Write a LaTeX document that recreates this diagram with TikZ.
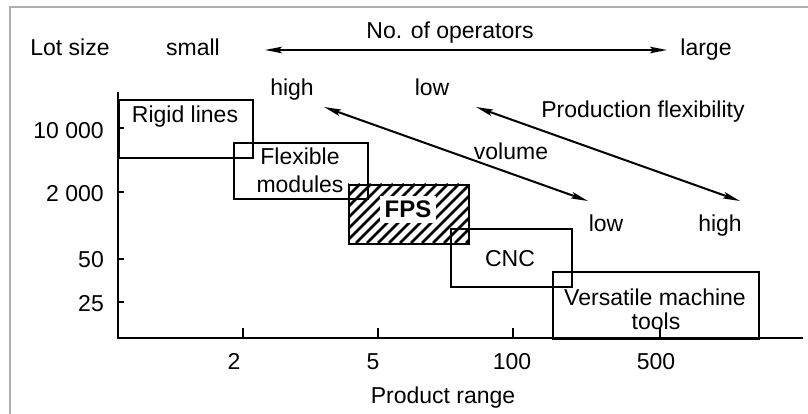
\documentclass[tikz,border=0pt]{standalone}
\usepackage{fontspec}
\setmainfont{Liberation Sans}
\usetikzlibrary{arrows.meta}
\begin{document}
\begin{tikzpicture}[x=1pt,y=-1pt,
  font=\fontsize{23}{27}\selectfont,
  ln/.style={line width=2.4pt},
  boxnode/.style={draw, line width=2.4pt, inner sep=0pt, anchor=north west},
  lbl/.style={inner sep=0pt, anchor=base},
  ylbl/.style={inner sep=0pt, anchor=base east},
  dbl/.style={line width=2pt, {Stealth[length=17pt,width=6.5pt,inset=3pt]}-{Stealth[length=17pt,width=6.5pt,inset=3pt]}},
  hatch/.style={line width=2.8pt}]
\useasboundingbox (0,0) rectangle (808,414);
\draw[line width=2pt, color={rgb,255:red,175;green,175;blue,175}] (10,414) -- (10,7) -- (808,7);

% axes
\coordinate (ytop) at (118,92);
\coordinate (origin) at (118,338);
\coordinate (xend) at (803,338);
\draw[ln] (ytop) -- (origin) -- (xend);

% y ticks and labels
\foreach \y [count=\i] in {128,192,259,302}{
  \coordinate (yt\i) at (118,\y);
  \draw[ln] (yt\i) -- ++(6,0);
}
\node[ylbl] (l10000) at (104,139) {10 000};
\node[ylbl] (l2000) at (104,201) {2 000};
\node[ylbl] (l50) at (104,267) {50};
\node[ylbl] (l25) at (104,311) {25};

% x ticks and labels
\foreach \x [count=\i] in {243,378,513,660}{
  \coordinate (xt\i) at (\x,338);
  \draw[ln] (xt\i) -- ++(0,-10);
}
\node[lbl] (x2) at (234,369) {2};
\node[lbl] (x5) at (373,369) {5};
\node[lbl] (x100) at (512,369) {100};
\node[lbl] (x500) at (656,369) {500};
\node[lbl] (prange) at (443,403) {Product range};

% FPS hatched box
\node[inner sep=0pt, anchor=north west, minimum width=120pt, minimum height=59pt] (fps) at (348,184) {};
\begin{scope}
  \clip (fps.south west) rectangle (fps.north east);
  \foreach \s in {290,301,...,470}{
    \draw[hatch] (\s,243) -- ++(59,-59);
  }
\end{scope}
\node[boxnode, minimum width=120pt, minimum height=59pt] (fpsb) at (348,184) {};
\node[lbl, fill=white, inner sep=5pt, font=\fontsize{24}{28}\selectfont\bfseries] (fpst) at (408,218) {FPS};

% boxes
\node[boxnode, minimum width=134pt, minimum height=58pt] (rigid) at (118,99) {};
\node[boxnode, minimum width=134pt, minimum height=56pt] (flex) at (233,142) {};
\node[boxnode, minimum width=121pt, minimum height=58pt] (cnc) at (450,228) {};
\node[boxnode, minimum width=206pt, minimum height=67pt] (vers) at (552,271) {};

\node[lbl] (rigidt) at (185,123) {Rigid lines};
\node[lbl] (flext1) at (300,165) {Flexible};
\node[lbl] (flext2) at (300,193) {modules};
\node[lbl] (cnct) at (510,266) {CNC};
\node[lbl] (verst1) at (655,305) {Versatile machine};
\node[lbl] (verst2) at (656,329) {tools};

% top labels
\node[lbl] (lotsize) at (70,56) {Lot size};
\node[lbl] (small) at (193,56) {small};
\node[lbl] (large) at (706,56) {large};
\node[lbl] (noop) at (450,39) {No. of operators};
\coordinate (opl) at (265,50);
\coordinate (opr) at (667,50);
\draw[dbl] (opl) -- (opr);

\node[lbl] (high1) at (292,96) {high};
\node[lbl] (low1) at (432,96) {low};
\node[lbl] (pflex) at (643,118) {Production flexibility};
\node[lbl] (volume) at (511,160) {volume};
\node[lbl] (low2) at (606,231) {low};
\node[lbl] (high2) at (720,231) {high};

\coordinate (a1s) at (324,107);
\coordinate (a1e) at (588,201);
\coordinate (a2s) at (476,107);
\coordinate (a2e) at (740,201);
\draw[dbl] (a1s) -- (a1e);
\draw[dbl] (a2s) -- (a2e);
\end{tikzpicture}
\end{document}
